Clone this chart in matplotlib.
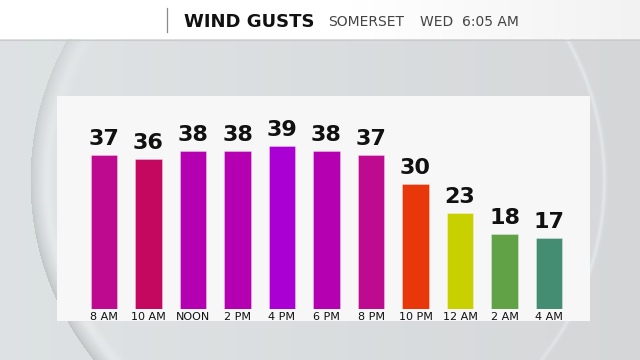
import numpy as np
import matplotlib.pyplot as plt
from matplotlib.patches import Rectangle

# данные
times = ['8 AM', '10 AM', 'NOON', '2 PM', '4 PM', '6 PM', '8 PM', '10 PM', '12 AM', '2 AM', '4 AM']
gusts = [37, 36, 38, 38, 39, 38, 37, 30, 23, 18, 17]
bar_colors = ['#bd0a8e', '#c5085f', '#b400b0', '#b400b0', '#ab00d3', '#b400b0',
              '#bd0a8e', '#e8380a', '#c8d000', '#61a246', '#448d72']

W, H = 640, 360
fig = plt.figure(figsize=(6.4, 3.6), dpi=100)

# фон зі сферою
bg = fig.add_axes([0, 0, 1, 1])
yy, xx = np.mgrid[0:H, 0:W].astype(float)
base = np.zeros((H, W, 3))
t = xx / W
base[..., 0] = 0.868 - 0.035 * t
base[..., 1] = 0.886 - 0.045 * t
base[..., 2] = 0.892 - 0.045 * t

cx, cy, R = 317.0, 180.0, 287.0
r = np.hypot(xx - cx, yy - cy)
ang = np.arctan2(yy - cy, xx - cx)
inside = r < R
base[inside] += 0.005
# темний обідок зліва
d = R - r
left = np.clip(-np.cos(ang) * 0.8 + np.sin(ang) * 0.5, 0, 1)
band = inside & (d < 25)
shade = np.where(band, np.exp(-d / 7.0) * 0.13 * left, 0)
glow = np.where(band, np.exp(-((d - 16) / 6.0) ** 2) * 0.04 * left, 0)
for k in range(3):
    base[..., k] = base[..., k] - shade + glow
# світла лінія справа
right = np.clip(np.cos(ang) * 1.2 - np.sin(ang) * 0.3, 0, 1)
rim = np.exp(-((r - R) / 2.0) ** 2) * 0.05 * right
base[..., 0] += rim
base[..., 1] += rim * 1.1
base[..., 2] += rim * 1.15
base = np.clip(base, 0, 1)
bg.imshow(base, extent=(0, W, H, 0), aspect='auto', interpolation='bilinear')

# шапка
head = np.ones((1, 256, 3))
g = np.linspace(0, 1, 256)
head[0, :, :] = (1.0 - 0.05 * np.clip((g - 0.55) / 0.45, 0, 1))[:, None]
bg.imshow(head, extent=(0, W, 39, 0), aspect='auto', interpolation='bilinear')
bg.plot([0, W], [39.5, 39.5], color='#c9cbcc', lw=0.8)
bg.plot([167, 167], [8, 32], color='#8a8a8a', lw=0.9)
bg.text(184, 27, 'WIND GUSTS', fontsize=13, fontweight='bold', color='#111111')
bg.text(328, 26, 'SOMERSET', fontsize=10, color='#444444')
bg.text(420, 26, 'WED  6:05 AM', fontsize=10, color='#444444')

# панель
bg.add_patch(Rectangle((57, 96), 533, 225, facecolor='#f7f7f7', edgecolor='none'))
bg.set_xlim(0, W)
bg.set_ylim(H, 0)
bg.axis('off')

# стовпчики
ax = fig.add_axes([81.75 / W, (H - 309) / H, 489.5 / W, 187.6 / H])
ax.patch.set_alpha(0)
x = np.arange(len(times))
ax.bar(x, gusts, width=0.6, color=bar_colors, edgecolor=(1, 1, 1, 0.35), linewidth=0.6)
for xi, v in zip(x, gusts):
    ax.annotate(str(v), (xi, v), xytext=(0, 7.2), textcoords='offset points',
                ha='center', va='baseline', fontsize=16, fontweight='bold', color='#111111')
ax.set_xlim(-0.5, len(times) - 0.5)
ax.set_ylim(0, 45)
ax.set_xticks(x)
ax.set_xticklabels(times, fontsize=8, color='#111111')
ax.tick_params(axis='x', length=0, pad=1.8)
ax.set_yticks([])
for s in ax.spines.values():
    s.set_visible(False)

fig.savefig('out.png', dpi=100)
